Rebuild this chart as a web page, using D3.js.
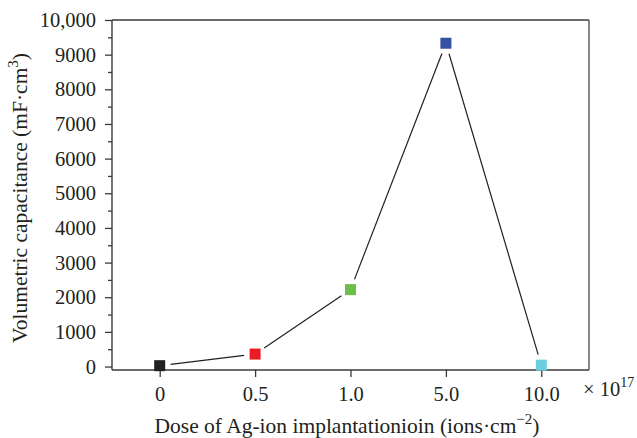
<!DOCTYPE html>
<html>
  <head>
    <meta charset="utf-8">
    <title>Volumetric capacitance vs Ag-ion dose</title>
    <script src="https://d3js.org/d3.v7.min.js"></script>
    <style>
      body { margin: 0; background: #fff; }
      svg text { font-family: "Liberation Serif", "Times New Roman", serif; fill: #231f20; }
    </style>
  </head>
  <body>
    <div id="chart"></div>
    <script>
      // data
      var doses = ["0", "0.5", "1.0", "5.0", "10.0"];
      var capacitance = [25, 360, 2220, 9330, 40];
      var colors = ["#231f20", "#ed1c24", "#6cbf4a", "#3451a4", "#6ccfdf"];
      var yTicks = [0, 1000, 2000, 3000, 4000, 5000, 6000, 7000, 8000, 9000, 10000];

      var width = 637, height = 438;
      var margin = { top: 20, right: 48, bottom: 68, left: 112 };
      var innerW = width - margin.left - margin.right;
      var innerH = height - margin.top - margin.bottom;

      var svg = d3.select("#chart")
        .append("svg")
        .attr("width", width)
        .attr("height", height);

      var g = svg.append("g")
        .attr("transform", "translate(" + margin.left + "," + margin.top + ")");

      // scales
      var x = d3.scalePoint()
        .domain(doses)
        .range([0, innerW])
        .padding(0.5);
      var y = d3.scaleLinear()
        .domain([-100, 10000])
        .range([innerH, 0]);

      // frame (top + right)
      g.append("line")
        .attr("x1", 0).attr("x2", innerW)
        .attr("y1", 0).attr("y2", 0)
        .attr("stroke", "#3a3a3a").attr("stroke-width", 1.4);
      g.append("line")
        .attr("x1", innerW).attr("x2", innerW)
        .attr("y1", 0).attr("y2", innerH)
        .attr("stroke", "#555").attr("stroke-width", 1.4);

      // minor y ticks
      g.append("g")
        .attr("class", "minor")
        .call(d3.axisLeft(y)
          .tickValues(d3.range(500, 10000, 1000))
          .tickSize(4)
          .tickFormat(""))
        .call(function(s) { s.select(".domain").remove(); });

      // y axis
      var yAxis = g.append("g")
        .call(d3.axisLeft(y)
          .tickValues(yTicks)
          .tickSize(7)
          .tickPadding(9)
          .tickFormat(function(d) { return d === 10000 ? "10,000" : d; }));

      // x axis
      var xAxis = g.append("g")
        .attr("transform", "translate(0," + innerH + ")")
        .call(d3.axisBottom(x)
          .tickSize(7)
          .tickPadding(9));

      [yAxis, xAxis].forEach(function(a) {
        a.select(".domain").attr("stroke", "#3a3a3a").attr("stroke-width", 1.4);
        a.selectAll("text")
          .style("font-size", "20.5px")
          .style("font-family", "'Liberation Serif', serif")
          .attr("fill", "#231f20");
      });
      xAxis.select(".domain").attr("d", "M0,0H" + innerW);
      yAxis.select(".domain").attr("d", "M0," + innerH + "V0");
      g.selectAll(".tick line").attr("stroke", "#3a3a3a").attr("stroke-width", 1.3);

      // connecting segments, stopped short of the markers
      var pts = doses.map(function(d, i) { return [x(d), y(capacitance[i])]; });
      var gap = 11;
      for (var i = 0; i < pts.length - 1; i++) {
        var a = pts[i], b = pts[i + 1];
        var dx = b[0] - a[0], dy = b[1] - a[1];
        var len = Math.sqrt(dx * dx + dy * dy);
        var ux = dx / len, uy = dy / len;
        g.append("line")
          .attr("x1", a[0] + ux * gap).attr("y1", a[1] + uy * gap)
          .attr("x2", b[0] - ux * gap).attr("y2", b[1] - uy * gap)
          .attr("stroke", "#231f20")
          .attr("stroke-width", 1.2);
      }

      // square markers
      var s = 11;
      g.selectAll(".pt")
        .data(doses)
        .enter().append("rect")
          .attr("class", "pt")
          .attr("x", function(d) { return x(d) - s / 2; })
          .attr("y", function(d, i) { return y(capacitance[i]) - s / 2; })
          .attr("width", s)
          .attr("height", s)
          .attr("fill", function(d, i) { return colors[i]; });

      // multiplier label
      var mult = svg.append("text")
        .attr("x", 583)
        .attr("y", 396)
        .style("font-size", "20.5px");
      mult.append("tspan").text("\u00d7 10");
      mult.append("tspan").attr("dy", -9).style("font-size", "14px").text("17");

      // axis titles
      var xt = svg.append("text")
        .attr("x", 347)
        .attr("y", 433)
        .attr("text-anchor", "middle")
        .style("font-size", "21.5px");
      xt.append("tspan").text("Dose of Ag-ion implantationioin (ions\u00b7cm");
      xt.append("tspan").attr("dy", -9).style("font-size", "15px").text("\u22122");
      xt.append("tspan").attr("dy", 9).text(")");

      var yt = svg.append("text")
        .attr("transform", "translate(27," + 198 + ") rotate(-90)")
        .attr("text-anchor", "middle")
        .style("font-size", "21.5px");
      yt.append("tspan").text("Volumetric capacitance (mF\u00b7cm");
      yt.append("tspan").attr("dy", -9).style("font-size", "15px").text("3");
      yt.append("tspan").attr("dy", 9).text(")");
    </script>
  </body>
</html>
